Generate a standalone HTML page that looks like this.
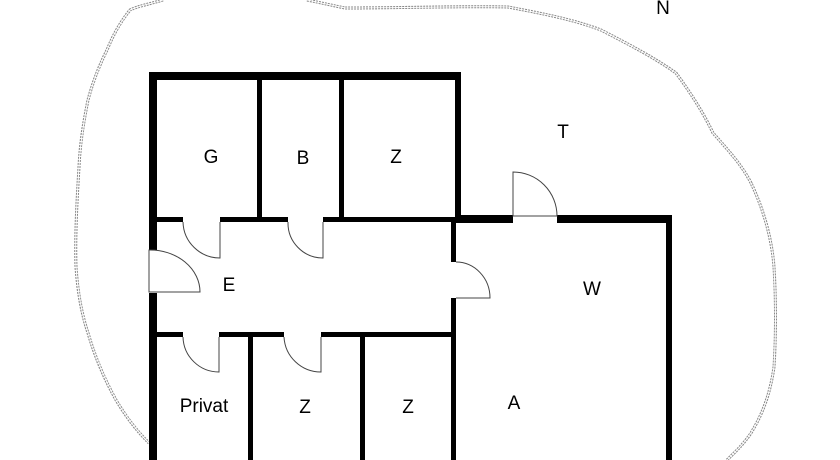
<!DOCTYPE html>
<html><head><meta charset="utf-8"><style>
html,body{margin:0;padding:0;background:#fff;}
svg{display:block}
text{font-family:"Liberation Sans",Arial,sans-serif;font-size:19px;fill:#000;text-anchor:middle}
</style></head><body>
<svg width="840" height="460" viewBox="0 0 840 460" xmlns="http://www.w3.org/2000/svg">
<path d="M163,0 C150,4 138,6 130,10 C118,25 112,38 107,50 C98,68 92,85 88,100 C83,125 80,145 79,167 C77,200 75,235 76,267 C78,295 82,315 88,333 C96,360 105,380 116,400 C128,420 138,432 149,443" fill="none" stroke="#888" stroke-width="3" stroke-dasharray="2,1"/>
<path d="M163,0 C150,4 138,6 130,10 C118,25 112,38 107,50 C98,68 92,85 88,100 C83,125 80,145 79,167 C77,200 75,235 76,267 C78,295 82,315 88,333 C96,360 105,380 116,400 C128,420 138,432 149,443" fill="none" stroke="#fff" stroke-width="1"/>
<path d="M307,0 C322,3 335,6 345,8 C400,8 460,6 508,7 C545,14 575,20 601,30 C630,45 655,58 676,73 C690,92 703,112 713,133 C728,150 742,165 751,183 C764,210 772,240 774,267 C776,300 776,335 774,367 C770,395 762,415 751,433 C743,445 735,452 727,460" fill="none" stroke="#888" stroke-width="3" stroke-dasharray="2,1"/>
<path d="M307,0 C322,3 335,6 345,8 C400,8 460,6 508,7 C545,14 575,20 601,30 C630,45 655,58 676,73 C690,92 703,112 713,133 C728,150 742,165 751,183 C764,210 772,240 774,267 C776,300 776,335 774,367 C770,395 762,415 751,433 C743,445 735,452 727,460" fill="none" stroke="#fff" stroke-width="1"/>
<g fill="#000">
<rect x="149" y="72" width="312" height="8"/>
<rect x="149" y="72" width="8" height="178"/>
<rect x="149" y="293" width="8" height="167"/>
<rect x="455" y="72" width="6" height="151"/>
<rect x="455" y="215" width="58" height="8"/>
<rect x="557" y="215" width="115" height="8"/>
<rect x="666" y="215" width="6" height="245"/>
<rect x="149" y="217" width="34" height="5"/>
<rect x="220" y="217" width="68" height="5"/>
<rect x="323" y="217" width="132" height="5"/>
<rect x="257" y="80" width="5" height="140"/>
<rect x="339" y="80" width="5" height="140"/>
<rect x="451" y="222" width="5" height="40"/>
<rect x="451" y="298" width="5" height="162"/>
<rect x="149" y="332" width="34" height="5"/>
<rect x="219" y="332" width="65" height="5"/>
<rect x="321" y="332" width="132" height="5"/>
<rect x="248" y="335" width="5" height="125"/>
<rect x="360" y="335" width="5" height="125"/>
</g>
<g fill="none" stroke="#444" stroke-width="1">
<path d="M220,222 V258 A37,37 0 0 1 183,222"/>
<path d="M323,222 V258 A35,35 0 0 1 288,222"/>
<path d="M219,337 V372 A36,36 0 0 1 183,337"/>
<path d="M321,337 V372 A37,37 0 0 1 284,337"/>
<path d="M149,292 H200 A50,42 0 0 0 149,250 Z"/>
<path d="M456,298 H490 A34,36 0 0 0 456,262"/>
<path d="M513,216 V172 A44,44 0 0 1 557,216 Z"/>
</g>
<text x="663" y="14">N</text>
<text x="563" y="138">T</text>
<text x="211" y="163">G</text>
<text x="303" y="164">B</text>
<text x="396" y="163">Z</text>
<text x="229" y="291">E</text>
<text x="592" y="295">W</text>
<text x="204" y="412">Privat</text>
<text x="305" y="413">Z</text>
<text x="408" y="413">Z</text>
<text x="514" y="409">A</text>
</svg>
</body></html>
